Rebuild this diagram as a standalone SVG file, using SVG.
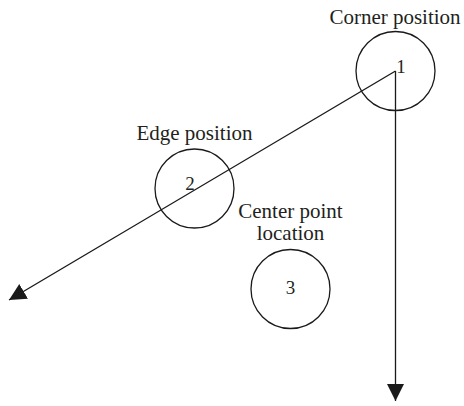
<svg xmlns="http://www.w3.org/2000/svg" width="464" height="406" viewBox="0 0 464 406">
<style>
.c{fill:none;stroke:#1a1a1a;stroke-width:1.3}
.l{fill:none;stroke:#1a1a1a;stroke-width:1.3}
.t{font-family:"Liberation Serif",serif;font-size:21px;fill:#231f20;text-anchor:middle}
.n{font-family:"Liberation Serif",serif;font-size:19px;fill:#231f20;text-anchor:middle}
</style>
<defs>
<marker id="ah" markerUnits="userSpaceOnUse" markerWidth="18" markerHeight="18" refX="17" refY="8.5" orient="auto">
<path d="M0,0 L17,8.5 L0,17 z" fill="#1a1a1a"/>
</marker>
</defs>
<g id="connectors">
<line class="l" x1="395.5" y1="71" x2="395.5" y2="401" marker-end="url(#ah)"/>
<line class="l" x1="395.5" y1="71" x2="9" y2="300" marker-end="url(#ah)"/>
</g>
<g id="node1">
<circle class="c" cx="395.5" cy="71" r="39.5"/>
<text class="n" x="401" y="73">1</text>
<text class="t" x="395" y="24">Corner position</text>
</g>
<g id="node2">
<circle class="c" cx="194.5" cy="188.5" r="39.5"/>
<text class="n" x="190" y="190">2</text>
<text class="t" x="194.5" y="140">Edge position</text>
</g>
<g id="node3">
<circle class="c" cx="290.5" cy="289" r="39.5"/>
<text class="n" x="290.5" y="294">3</text>
<text class="t" x="290.5" y="218">Center point</text>
<text class="t" x="290.5" y="240">location</text>
</g>
</svg>
